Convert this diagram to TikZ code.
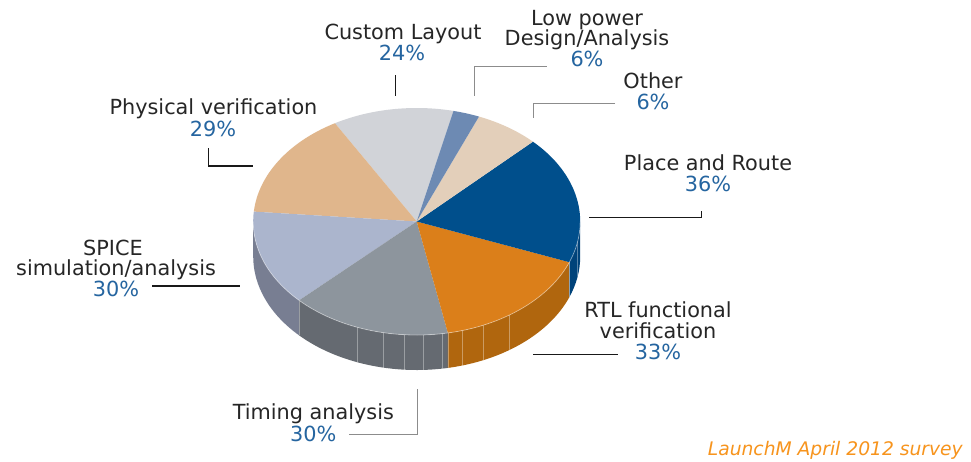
\documentclass[tikz,border=0pt]{standalone}
\usepackage{fontspec}
\setmainfont{DejaVu Sans}
\usetikzlibrary{calc}
\definecolor{txtc}{HTML}{262626}
\definecolor{pctc}{HTML}{2565A0}
\definecolor{srcc}{HTML}{F7941D}
\definecolor{leadgray}{HTML}{8C8C8C}
\definecolor{cCustom}{HTML}{D1D3D8}
\definecolor{cPhys}{HTML}{E0B68C}
\definecolor{cSpice}{HTML}{ABB5CD}
\definecolor{sSpice}{HTML}{787E92}
\definecolor{cTiming}{HTML}{8D959D}
\definecolor{sTiming}{HTML}{656A71}
\definecolor{cRTL}{HTML}{DB7F1A}
\definecolor{sRTL}{HTML}{B0660E}
\definecolor{cPR}{HTML}{004F8C}
\definecolor{sPR}{HTML}{00437A}
\definecolor{cOther}{HTML}{E3CFBA}
\definecolor{cLow}{HTML}{6D8AB3}
\newcommand\pieTop[3]{%
  \fill[#3] (C) -- ($(C)+(#1:163.5pt and 113.5pt)$)
    arc[start angle=#1, end angle=#2, x radius=163.5pt, y radius=113.5pt] -- cycle;}
\newcommand\pieSide[3]{%
  \fill[#3] ($(C)+(#1:163.5pt and 113.5pt)$)
    arc[start angle=#1, end angle=#2, x radius=163.5pt, y radius=113.5pt]
    -- ++(0,-35)
    arc[start angle=#2, end angle=#1, x radius=163.5pt, y radius=113.5pt] -- cycle;}
\newcommand\pieLine[1]{%
  \draw[sideline] ($(C)+(#1:163.5pt and 113.5pt)$) -- ++(0,-35);}
\begin{document}
\begin{tikzpicture}[x=1pt,y=1pt,
  lbl/.style={anchor=base, inner sep=0pt, text=txtc, font=\fontsize{20.8}{24}\selectfont},
  pct/.style={lbl, text=pctc},
  leadk/.style={draw=black!90, line width=1.2pt},
  leadg/.style={draw=leadgray, line width=1.2pt},
  sideline/.style={draw=white, opacity=0.35, line width=0.6pt}]
\useasboundingbox[fill=white] (0,0) rectangle (971,-461);
\coordinate (C) at (416.7,-221.5);
% sides
\pieSide{180}{224}{sSpice}
\pieSide{224}{281}{sTiming}
\pieSide{281}{339}{sRTL}
\pieSide{339}{360}{sPR}
\foreach \t in {224,248.6,258.1,265.5,272.2,278.9,281,286.1,294,304.4,339,350}{\pieLine{\t}}
% top faces
\pieTop{77}{120}{cCustom}
\pieTop{120}{175}{cPhys}
\pieTop{175}{224}{cSpice}
\pieTop{224}{281}{cTiming}
\pieTop{281}{339}{cRTL}
\pieTop{-21}{44.7}{cPR}
\pieTop{44.7}{67.6}{cOther}
\pieTop{67.6}{77}{cLow}
\draw[white, opacity=0.4, line width=0.8pt] ($(C)+(180:163.5pt and 113.5pt)$)
  arc[start angle=180, end angle=360, x radius=163.5pt, y radius=113.5pt];
% labels
\node[lbl] (custom) at (403,-39) {Custom Layout};
\node[pct] (customp) at (402,-60) {24\%};
\node[lbl] (low1) at (587,-25) {Low power};
\node[lbl] (low2) at (587,-45.7) {Design/Analysis};
\node[pct] (lowp) at (587,-66) {6\%};
\node[lbl] (other) at (653,-88.3) {Other};
\node[pct] (otherp) at (653,-109.3) {6\%};
\node[lbl] (pr) at (708,-170.7) {Place and Route};
\node[pct] (prp) at (708,-191.7) {36\%};
\node[lbl] (rtl1) at (658,-317.7) {RTL functional};
\node[lbl] (rtl2) at (658,-338.3) {verification};
\node[pct] (rtlp) at (658,-359.3) {33\%};
\node[lbl] (phys) at (213.5,-114.3) {Physical verification};
\node[pct] (physp) at (213,-136) {29\%};
\node[lbl] (spice1) at (113,-255) {SPICE};
\node[lbl] (spice2) at (116,-275.7) {simulation/analysis};
\node[pct] (spicep) at (116,-296) {30\%};
\node[lbl] (timing) at (313.3,-419) {Timing analysis};
\node[pct] (timingp) at (313.3,-441.7) {30\%};
\node[anchor=base east, inner sep=0pt, text=srcc, font=\fontsize{18.7}{22}\selectfont\itshape] (src) at (963,-455) {LaunchM April 2012 survey};
% leaders
\coordinate (lc1) at (395.7,-75); \coordinate (lc2) at (395.7,-96);
\draw[leadk] (lc1) -- (lc2);
\coordinate (ll1) at (546.7,-66.3); \coordinate (ll2) at (474.7,-96);
\draw[leadg] (ll1) -| (ll2);
\coordinate (lo1) at (615,-103.3); \coordinate (lo2) at (533.3,-118.3);
\draw[leadg] (lo1) -| (lo2);
\coordinate (lp1) at (589.3,-217.3); \coordinate (lp2) at (701.7,-211);
\draw[leadk] (lp1) -| (lp2);
\coordinate (lr1) at (533,-354.3); \coordinate (lr2) at (617.7,-354.3);
\draw[leadk] (lr1) -- (lr2);
\coordinate (lf1) at (208.3,-148.3); \coordinate (lf2) at (253.3,-166);
\draw[leadk] (lf1) |- (lf2);
\coordinate (ls1) at (152,-286); \coordinate (ls2) at (240.3,-286);
\draw[leadk] (ls1) -- (ls2);
\coordinate (lt1) at (417.3,-389.3); \coordinate (lt2) at (349.3,-434.3);
\draw[leadg] (lt1) |- (lt2);
\end{tikzpicture}
\end{document}
